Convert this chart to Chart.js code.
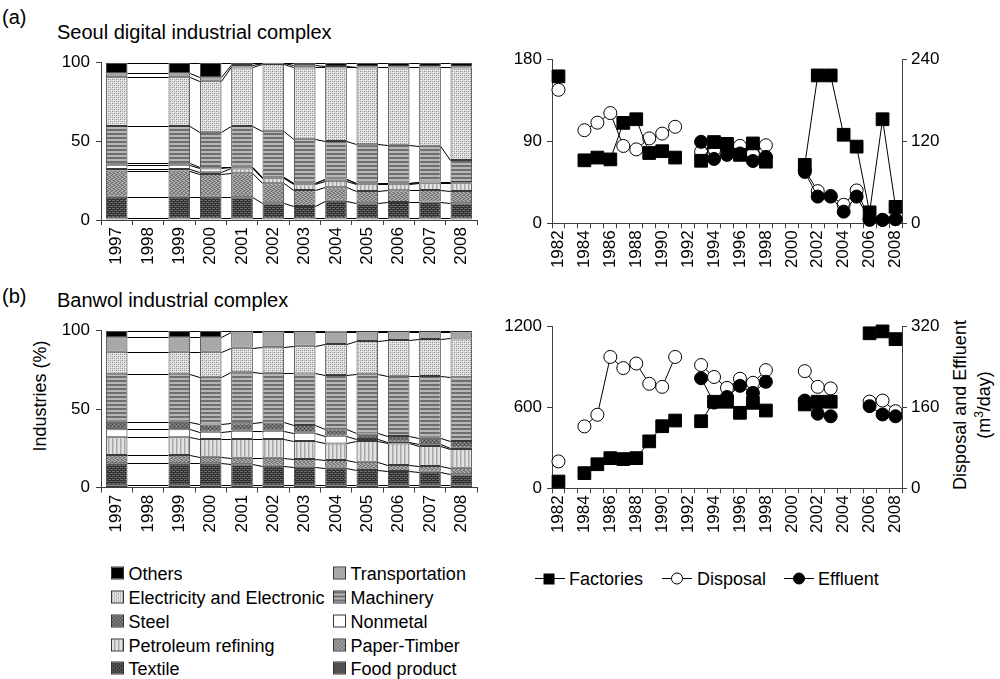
<!DOCTYPE html>
<html><head><meta charset="utf-8">
<script src="https://cdn.jsdelivr.net/npm/chart.js@4.4.1/dist/chart.umd.min.js"></script>
<style>
body{margin:0;width:1000px;height:679px;background:#fff;position:relative;overflow:hidden;font-family:"Liberation Sans",Arial,Helvetica,sans-serif;color:#000}
.box{position:absolute}
.t{position:absolute;font-size:18px;white-space:nowrap;line-height:1}
.ttl{position:absolute;font-size:20px;white-space:nowrap;line-height:1}
.rot{position:absolute;font-size:18px;white-space:nowrap;line-height:24px;text-align:center;transform:translate(-50%,-50%) rotate(-90deg)}
.lg{position:absolute;font-size:18px;white-space:nowrap;line-height:1;transform:translateY(-50%)}
.sw{position:absolute;width:11px;height:11px;border:1px solid #333;transform:translateY(-50%)}
.rl{position:absolute;transform:translateY(-50%)}
</style></head><body>

<div class="ttl" style="left:2px;top:7px">(a)</div>
<div class="ttl" style="left:57px;top:22px">Seoul digital industrial complex</div>
<div class="ttl" style="left:2px;top:286px">(b)</div>
<div class="ttl" style="left:57px;top:290px">Banwol industrial complex</div>
<div class="rot" style="left:40px;top:396px">Industries (%)</div>
<div class="rot" style="left:972px;top:405px">Disposal and Effluent<br>(m<sup style="font-size:12px;line-height:0">3</sup>/day)</div>

<div class="box" style="left:30px;top:45px"><canvas id="c1" width="460" height="235"></canvas></div>
<div class="box" style="left:30px;top:312px"><canvas id="c2" width="460" height="235"></canvas></div>
<div class="box" style="left:490px;top:40px"><canvas id="c3" width="460" height="240"></canvas></div>
<div class="box" style="left:490px;top:308px"><canvas id="c4" width="460" height="240"></canvas></div>

<div id="legL"></div>
<div id="legR"></div>

<script>
// ---------- DATA ----------
const years = ['1997','1998','1999','2000','2001','2002','2003','2004','2005','2006','2007','2008'];
const seriesNames = ['Food product','Textile','Paper-Timber','Petroleum refining','Nonmetal','Steel','Machinery','Electricity and Electronic','Transportation','Others'];

// Seoul digital industrial complex (%), 1998 missing
const seoulFood      = [1.0, null, 1.0, 1.0, 1.0, 1.0, 1.0, 1.0, 1.0, 1.0, 1.0, 1.0];
const seoulTextile   = [13.8, null, 13.8, 13.8, 13.4, 9.6, 7.9, 11.3, 9.6, 10.4, 10.7, 9.6];
const seoulPaper     = [16.6, null, 16.6, 14.4, 15.3, 12.7, 10.2, 8.5, 7.8, 7.5, 7.4, 7.8];
const seoulPetroleum = [1.1, null, 1.1, 1.1, 3.1, 3.2, 3.6, 4.2, 4.3, 3.8, 4.2, 4.9];
const seoulNonmetal  = [2.7, null, 2.7, 2.5, 0.7, 0.6, 0.6, 0.8, 0.6, 0.6, 0.6, 0.4];
const seoulSteel     = [0.9, null, 0.9, 0.7, 0.4, 0.4, 0.4, 0.5, 0.4, 0.4, 0.5, 0.5];
const seoulMachinery = [23.6, null, 23.6, 22.6, 25.8, 29.3, 27.6, 23.9, 24.4, 24.2, 22.8, 13.9];
const seoulElec      = [31.0, null, 31.0, 32.5, 37.3, 42.4, 45.7, 46.8, 48.9, 49.1, 49.8, 58.9];
const seoulTransport = [2.5, null, 2.5, 2.1, 1.5, 0.4, 1.3, 0.9, 0.5, 0.5, 0.5, 0.5];
const seoulOthers    = [6.8, null, 6.8, 9.3, 1.5, 0.4, 1.7, 2.1, 2.5, 2.5, 2.5, 2.5];

// Banwol industrial complex (%), 1998 missing
const banwolFood      = [1.5, null, 1.5, 1.5, 1.5, 1.5, 1.5, 1.5, 1.5, 1.5, 1.5, 1.5];
const banwolTextile   = [14.0, null, 14.0, 14.0, 13.4, 12.5, 11.9, 11.2, 9.8, 9.1, 8.7, 7.0];
const banwolPaper     = [5.3, null, 5.3, 4.2, 4.2, 5.1, 4.9, 4.9, 5.3, 3.8, 3.6, 4.2];
const banwolPetroleum = [11.3, null, 11.3, 11.3, 11.9, 11.9, 11.4, 10.6, 13.1, 13.8, 12.7, 11.9];
const banwolNonmetal  = [5.1, null, 5.1, 4.7, 5.3, 5.3, 5.3, 4.9, 1.3, 1.1, 1.1, 0.9];
const banwolSteel     = [4.8, null, 4.8, 4.6, 4.7, 5.3, 4.9, 4.1, 3.6, 3.6, 4.2, 4.2];
const banwolMachinery = [30.2, null, 30.2, 30.4, 32.5, 31.6, 32.9, 34.6, 37.6, 38.4, 39.3, 40.6];
const banwolElec      = [14.4, null, 14.4, 15.9, 15.7, 16.2, 17.6, 19.7, 21.2, 22.8, 23.6, 24.8];
const banwolTransport = [9.2, null, 9.2, 9.2, 9.7, 9.5, 8.5, 7.9, 5.5, 4.8, 4.2, 3.8];
const banwolOthers    = [4.2, null, 4.2, 4.2, 1.1, 1.1, 1.1, 0.6, 1.1, 1.1, 1.1, 1.1];

const yearsR = ['1982','1983','1984','1985','1986','1987','1988','1989','1990','1991','1992','1993','1994','1995',
                '1996','1997','1998','1999','2000','2001','2002','2003','2004','2005','2006','2007','2008'];

// Seoul: factories (left axis), disposal & effluent m3/day (right axis)
const seoulFactories = [161, null, 69, 72, 70, 110, 114, 77, 79, 72, null, 68.5, 89, 87, 75, 87.5, 67.5, null, null, 64, 162, 162, 97, 84, 12, 114, 18];
const seoulDisposal  = [195, null, 136, 147, 161, 113, 108, 124, 131, 141, null, 104.5, 107, 108, 113, 102, 114, null, null, 78, 47, 40, 27, 48, 6, 5, 6];
const seoulEffluent  = [null, null, null, null, null, null, null, null, null, null, null, 119, 94, 100, 102, 91, 97, null, null, 75, 39, 39, 17, 39, 5, 5, 6];

// Banwol
const banwolFactories = [50, null, 112, 178, 223, 216, 223, 347, 459, 501, null, 496, 640, 640, 558, 632, 575, null, null, 620, 640, 640, null, null, 1146, 1160, 1103];
const banwolDisposal  = [53, null, 122, 145, 259, 237, 246, 206, 200, 259, null, 243, 219.5, 198, 216, 208, 233, null, null, 231, 200, 197, null, null, 171, 173, 152];
const banwolEffluent  = [null, null, null, null, null, null, null, null, null, null, null, 217, 169, 180, 202, 188, 210, null, null, 173, 147, 142, null, null, 162, 145.5, 142];

// ---------- STYLE ----------
Chart.defaults.font.family = '"Liberation Sans", Arial, Helvetica, sans-serif';
Chart.defaults.font.size = 17;
Chart.defaults.color = '#000';
const AX = '#404040';

function mkTile(w, h, fn) { const c = document.createElement('canvas'); c.width = w; c.height = h; const g = c.getContext('2d'); fn(g); return c; }
function dots(g, col, pts) { g.fillStyle = col; pts.forEach(p => g.fillRect(p[0], p[1], p[2] || 1, p[3] || 1)); }
function solid(col) { return mkTile(4, 4, g => { g.fillStyle = col; g.fillRect(0, 0, 4, 4); }); }

const tiles = {
  'Others': solid('#000000'),
  'Transportation': solid('#a8a8a8'),
  'Electricity and Electronic': mkTile(4, 4, g => { g.fillStyle = '#dedede'; g.fillRect(0, 0, 4, 4); dots(g, '#888888', [[0,0],[2,2]]); dots(g, '#b2b2b2', [[2,0],[0,2]]); dots(g, '#f2f2f2', [[1,1],[3,3]]); }),
  'Machinery': mkTile(4, 4, g => { g.fillStyle = '#b6b6b6'; g.fillRect(0, 0, 4, 4); g.fillStyle = '#6e6e6e'; g.fillRect(0, 0, 4, 2); }),
  'Steel': mkTile(4, 4, g => { g.fillStyle = '#6a6a6a'; g.fillRect(0, 0, 4, 4); dots(g, '#9a9a9a', [[0,0],[2,2]]); dots(g, '#4a4a4a', [[2,0],[0,2]]); }),
  'Nonmetal': solid('#ffffff'),
  'Petroleum refining': mkTile(4, 4, g => { g.fillStyle = '#e2e2e2'; g.fillRect(0, 0, 4, 4); g.fillStyle = '#a8a8a8'; g.fillRect(2, 0, 1, 4); g.fillStyle = '#c6c6c6'; g.fillRect(3, 0, 1, 4); }),
  'Paper-Timber': mkTile(4, 4, g => { g.fillStyle = '#929292'; g.fillRect(0, 0, 4, 4); dots(g, '#666666', [[0,0],[2,1],[1,2],[3,3]]); dots(g, '#bababa', [[2,0],[0,1],[3,2],[1,3]]); }),
  'Textile': mkTile(4, 4, g => { g.fillStyle = '#303030'; g.fillRect(0, 0, 4, 4); dots(g, '#6c6c6c', [[0,1,3,1],[2,3,2,1],[0,3,1,1]]); }),
  'Food product': solid('#505050')
};
const pctx = document.createElement('canvas').getContext('2d');
function patternOf(name) { return pctx.createPattern(tiles[name], 'repeat'); }

// Excel-like series lines connecting stacked segment tops
const seriesLines = {
  id: 'seriesLines',
  afterDatasetsDraw(chart) {
    const ctx = chart.ctx; ctx.save(); ctx.strokeStyle = '#000'; ctx.lineWidth = 1;
    chart.data.datasets.forEach((ds, di) => {
      const meta = chart.getDatasetMeta(di); let prev = null;
      meta.data.forEach((bar, i) => {
        if (ds.data[i] == null) return;
        if (prev) { ctx.beginPath(); ctx.moveTo(prev.x + prev.width / 2, Math.round(prev.y) + 0.5); ctx.lineTo(bar.x - bar.width / 2, Math.round(bar.y) + 0.5); ctx.stroke(); }
        prev = bar;
      });
    });
    ctx.restore();
  }
};

function geom(box, plot) {
  return { yw: plot.l - box.l, xh: box.t + box.h - plot.b, pt: plot.t - box.t, pr: box.l + box.w - plot.r };
}
const plainNum = v => String(v);

function barChart(id, seriesData, box, plot) {
  const gm = geom(box, plot);
  return new Chart(document.getElementById(id), {
    type: 'bar',
    data: {
      labels: years,
      datasets: seriesNames.map((n, i) => ({
        label: n, data: seriesData[i], backgroundColor: patternOf(n),
        borderColor: '#3a3a3a', borderWidth: 1, borderSkipped: false,
        barPercentage: 0.69, categoryPercentage: 1.0
      }))
    },
    options: {
      responsive: false, animation: false,
      layout: { padding: { left: 0, top: gm.pt, right: gm.pr, bottom: 0 } },
      plugins: { legend: { display: false }, tooltip: { enabled: false } },
      scales: {
        x: { stacked: true, offset: true,
             grid: { display: true, drawOnChartArea: false, offset: true, tickLength: 5, color: AX },
             border: { color: AX, width: 1 },
             ticks: { autoSkip: false, minRotation: 90, maxRotation: 90, padding: 2 },
             afterFit: s => { s.height = gm.xh; } },
        y: { stacked: true, min: 0, max: 100,
             grid: { drawOnChartArea: false, tickLength: 5, color: AX },
             border: { color: AX, width: 1 },
             ticks: { stepSize: 50, padding: 6, callback: plainNum },
             afterFit: s => { s.width = gm.yw; } }
      }
    },
    plugins: [seriesLines]
  });
}

function lineChart(id, fac, dis, eff, yMax, y2Max, box, plot, y2w) {
  const gm = geom(box, plot);
  const common = { borderColor: '#000', borderWidth: 1, spanGaps: false, clip: false, pointBorderColor: '#000', pointBorderWidth: 1 };
  return new Chart(document.getElementById(id), {
    type: 'line',
    data: {
      labels: yearsR,
      datasets: [
        Object.assign({ label: 'Factories', data: fac, yAxisID: 'y', pointStyle: 'rect', pointRadius: 9, pointBackgroundColor: '#000', order: 2 }, common),
        Object.assign({ label: 'Disposal', data: dis, yAxisID: 'y2', pointStyle: 'circle', pointRadius: 6.5, pointBackgroundColor: '#fff', order: 3 }, common),
        Object.assign({ label: 'Effluent', data: eff, yAxisID: 'y2', pointStyle: 'circle', pointRadius: 6.5, pointBackgroundColor: '#000', order: 1 }, common)
      ]
    },
    options: {
      responsive: false, animation: false,
      layout: { padding: { left: 0, top: gm.pt, right: 0, bottom: 0 } },
      plugins: { legend: { display: false }, tooltip: { enabled: false } },
      scales: {
        x: { type: 'category', offset: true,
             grid: { display: true, drawOnChartArea: false, offset: true, tickLength: 5, color: AX },
             border: { color: AX, width: 1 },
             ticks: { autoSkip: false, minRotation: 90, maxRotation: 90, padding: 2,
                      callback: (v, i) => (i % 2 === 0 ? yearsR[i] : '') },
             afterFit: s => { s.height = gm.xh; } },
        y: { position: 'left', min: 0, max: yMax,
             grid: { drawOnChartArea: false, tickLength: 5, color: AX },
             border: { color: AX, width: 1 },
             ticks: { stepSize: yMax / 2, padding: 5, callback: plainNum },
             afterFit: s => { s.width = gm.yw; } },
        y2: { position: 'right', min: 0, max: y2Max,
             grid: { drawOnChartArea: false, tickLength: 5, color: AX },
             border: { color: AX, width: 1 },
             ticks: { stepSize: y2Max / 2, padding: 4, callback: plainNum },
             afterFit: s => { s.width = y2w; } }
      }
    }
  });
}

barChart('c1',
  [seoulFood, seoulTextile, seoulPaper, seoulPetroleum, seoulNonmetal, seoulSteel, seoulMachinery, seoulElec, seoulTransport, seoulOthers],
  { l: 30, t: 45, w: 460, h: 235 }, { l: 101, t: 62.7, r: 477, b: 220 });
barChart('c2',
  [banwolFood, banwolTextile, banwolPaper, banwolPetroleum, banwolNonmetal, banwolSteel, banwolMachinery, banwolElec, banwolTransport, banwolOthers],
  { l: 30, t: 312, w: 460, h: 235 }, { l: 101, t: 330.7, r: 477, b: 487.7 });
lineChart('c3', seoulFactories, seoulDisposal, seoulEffluent, 180, 240,
  { l: 490, t: 40, w: 460, h: 240 }, { l: 552, t: 59, r: 902, b: 223.3 }, 48);
lineChart('c4', banwolFactories, banwolDisposal, banwolEffluent, 1200, 320,
  { l: 490, t: 308, w: 460, h: 240 }, { l: 552, t: 326, r: 902, b: 488.3 }, 48);

// ---------- LEGENDS ----------
const legRows = [['Others','Transportation'],['Electricity and Electronic','Machinery'],['Steel','Nonmetal'],['Petroleum refining','Paper-Timber'],['Textile','Food product']];
const rowY = [573, 597, 621, 644.5, 668];
let html = '';
legRows.forEach((r, ri) => {
  [[111, 128.5], [333, 350.5]].forEach((pos, ci) => {
    const n = r[ci];
    html += `<div class="sw" style="left:${pos[0]}px;top:${rowY[ri]}px;background-image:url(${tiles[n].toDataURL()})"></div>`;
    html += `<div class="lg" style="left:${pos[1]}px;top:${rowY[ri] + 1}px">${n}</div>`;
  });
});
document.getElementById('legL').innerHTML = html;

function marker(kind) {
  const c = document.createElement('canvas'); c.width = 30; c.height = 16;
  const g = c.getContext('2d');
  g.strokeStyle = '#000'; g.lineWidth = 1; g.beginPath(); g.moveTo(0, 8.5); g.lineTo(30, 8.5); g.stroke();
  if (kind === 'sq') { g.fillStyle = '#000'; g.fillRect(8.5, 3.5, 11, 11); }
  else { g.beginPath(); g.arc(15, 8.5, 5.5, 0, Math.PI * 2); g.fillStyle = kind === 'open' ? '#fff' : '#000'; g.fill(); g.stroke(); }
  return c.toDataURL();
}
const legR = [['Factories', 'sq', 535, 569], ['Disposal', 'open', 662, 697], ['Effluent', 'fill', 784, 818]];
let h2 = '';
legR.forEach(e => {
  h2 += `<img class="rl" src="${marker(e[1])}" style="left:${e[2]}px;top:578px">`;
  h2 += `<div class="lg" style="left:${e[3]}px;top:579px">${e[0]}</div>`;
});
document.getElementById('legR').innerHTML = h2;
</script>
</body></html>
